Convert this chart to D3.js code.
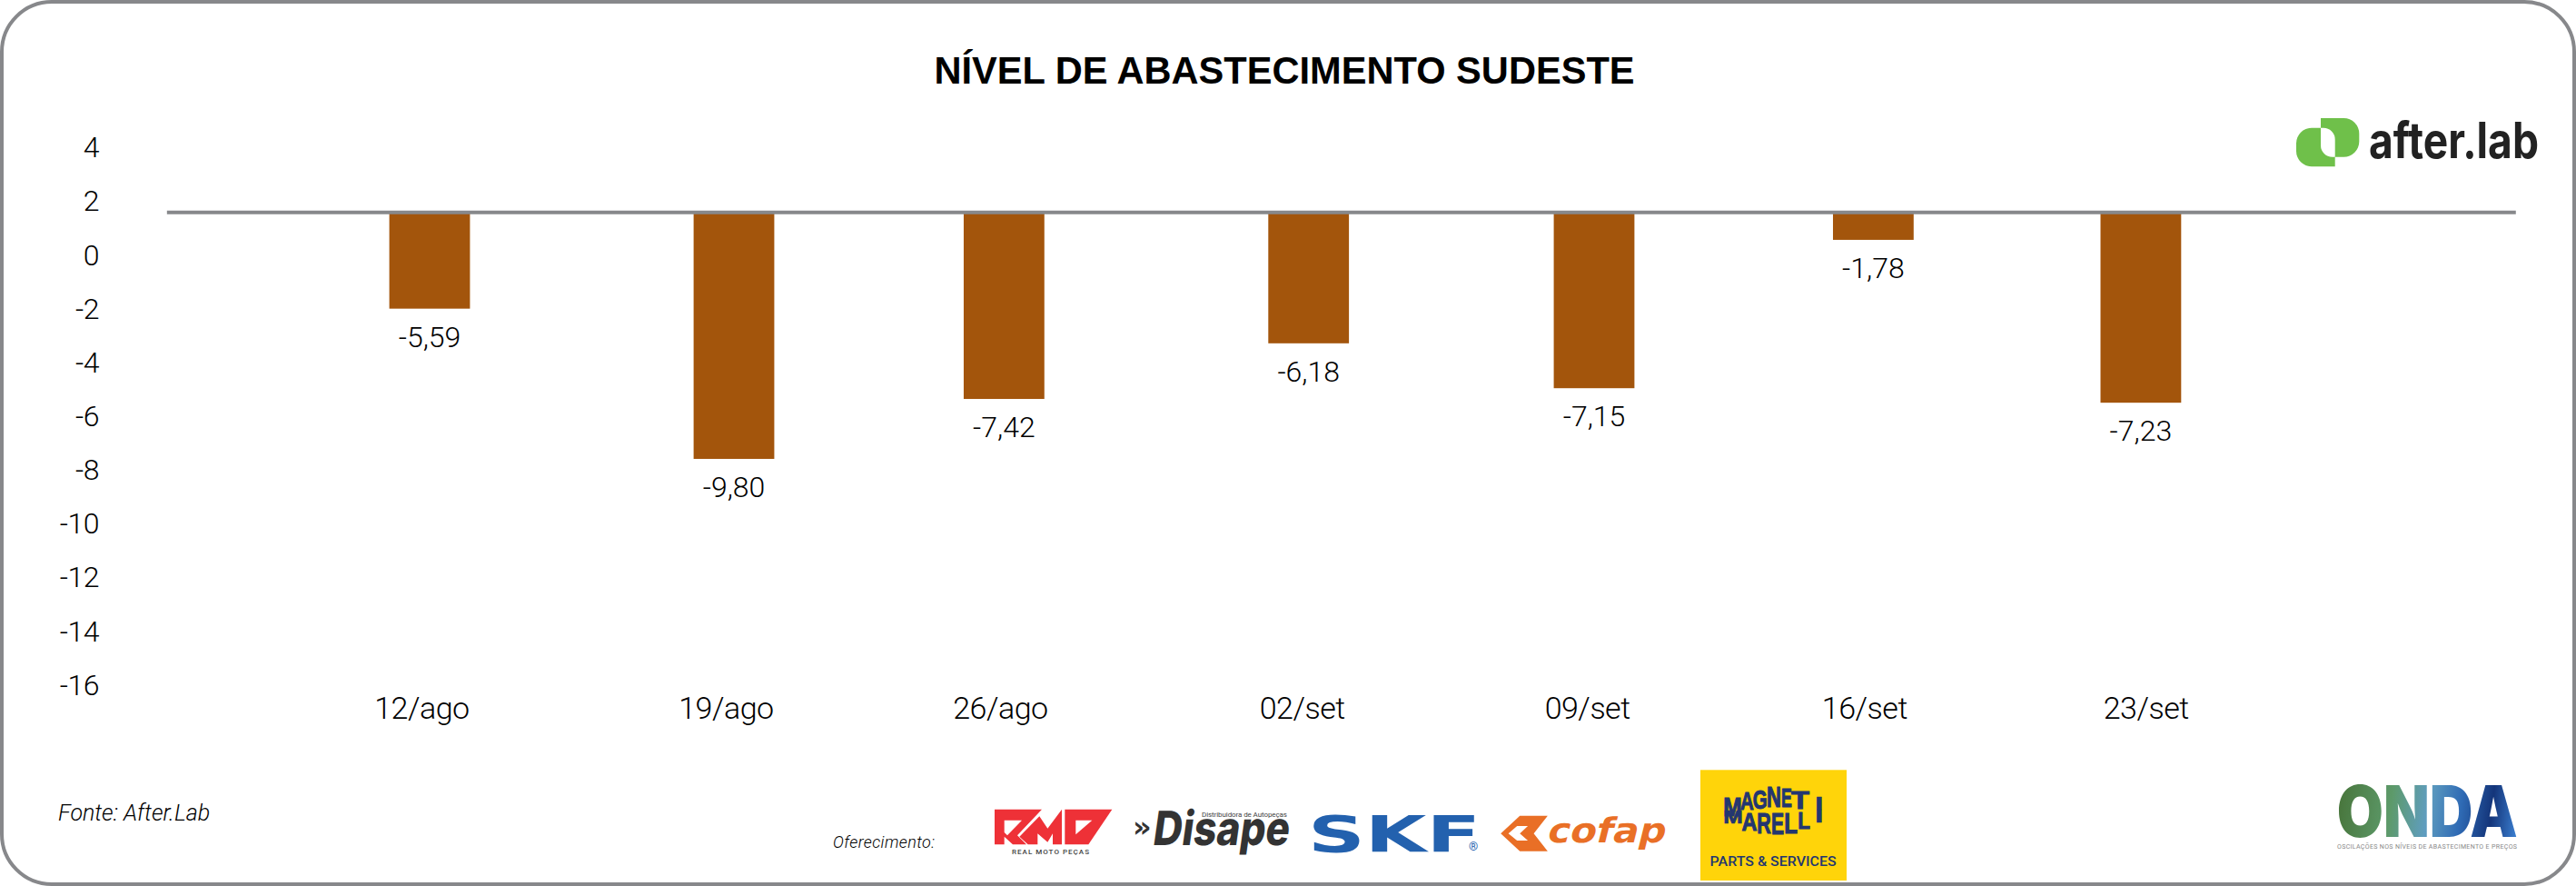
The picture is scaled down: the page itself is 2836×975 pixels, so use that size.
<!DOCTYPE html>
<html lang="pt-BR">
<head>
<meta charset="utf-8">
<title>Nível de abastecimento Sudeste</title>
<script src="https://cdnjs.cloudflare.com/ajax/libs/d3/7.8.5/d3.min.js"></script>
<style>
html,body{margin:0;padding:0;background:#fff;}
svg{display:block;}
text{font-family:Roboto,sans-serif;}
</style>
</head>
<body>
<svg id="chart" width="2836" height="975"></svg>
<script>
// ---------- data ----------
const chartTitle = "NÍVEL DE ABASTECIMENTO SUDESTE";
const categories = ["12/ago","19/ago","26/ago","02/set","09/set","16/set","23/set"];
// printed values on the bars
const valueLabels = ["-5,59","-9,80","-7,42","-6,18","-7,15","-1,78","-7,23"];
// where each bar ends when read against the left axis
const barEnds = [-1.99,-7.58,-5.35,-3.28,-4.95,0.57,-5.49];
// the reference line from which all bars hang, read against the left axis
const baselineLevel = 1.59;
// the slots along the horizontal axis are not evenly spaced in the reference
const barSlots = [0,1.067,2.014,3.082,4.083,5.062,6];
const labelSlots = [-0.029,1.038,2.0,3.058,4.058,5.03,6.017];
const slotExtent = [-0.921,7.315];
const yTicks = [4,2,0,-2,-4,-6,-8,-10,-12,-14,-16];

// ---------- scales ----------
const svg = d3.select("#chart");
const x = d3.scaleLinear().domain([0,6]).range([473,2356.9]);
const y = d3.scaleLinear().domain([4,-16]).range([162.5,754]);
const barW = 88.8;
const GRAY = "#87888b", BAR = "#a3550c", TEXTW = 350;

// frame
svg.append("rect").attr("x",2).attr("y",2).attr("width",2832).attr("height",971)
  .attr("rx",55).attr("ry",55).attr("fill","#fff").attr("stroke",GRAY).attr("stroke-width",4);

// title
svg.append("text").attr("x",1414).attr("y",92).attr("text-anchor","middle")
  .style("font-family","'Liberation Sans',Arial,sans-serif").style("font-weight",700)
  .style("font-size","41.6px").attr("fill","#000").text(chartTitle);

// y axis
const yAxis = svg.append("g").attr("transform","translate(117,0)")
  .call(d3.axisLeft(y).tickValues(yTicks).tickSize(0).tickPadding(8).tickFormat(d=>String(d)));
yAxis.select(".domain").remove();
yAxis.selectAll("text").style("font-family","Roboto,sans-serif").style("font-size","32px")
  .style("font-weight",TEXTW).style("letter-spacing","-0.5px").attr("fill","#000");

// x axis (labels only)
const xAxis = svg.append("g").attr("transform",`translate(0,${y(-16)})`)
  .call(d3.axisBottom(x).tickValues(labelSlots).tickSize(0).tickPadding(13)
    .tickFormat((d,i)=>categories[i]));
xAxis.select(".domain").remove();
xAxis.selectAll("text").style("font-family","Roboto,sans-serif").style("font-size","34px")
  .style("font-weight",TEXTW).style("letter-spacing","-0.5px").attr("fill","#000");

// bars
const rows = categories.map((c,i)=>({c,slot:barSlots[i],end:barEnds[i],label:valueLabels[i]}));
svg.append("g").selectAll("rect").data(rows).join("rect")
  .attr("x",d=>x(d.slot)-barW/2).attr("width",barW)
  .attr("y",y(baselineLevel)).attr("height",d=>y(d.end)-y(baselineLevel))
  .attr("fill",BAR);

// baseline
svg.append("line").attr("x1",x(slotExtent[0])).attr("x2",x(slotExtent[1]))
  .attr("y1",y(baselineLevel)).attr("y2",y(baselineLevel))
  .attr("stroke",GRAY).attr("stroke-width",4);

// value labels
svg.append("g").selectAll("text").data(rows).join("text")
  .attr("x",d=>x(d.slot)).attr("y",d=>y(d.end)+42)
  .attr("text-anchor","middle").style("font-size","32px").style("font-weight",TEXTW)
  .attr("fill","#000").text(d=>d.label);

// footer texts
svg.append("text").attr("x",64).attr("y",903).style("font-size","25px").style("font-style","italic")
  .style("font-weight",TEXTW).attr("fill","#000").text("Fonte: After.Lab");
svg.append("text").attr("x",917).attr("y",932.7).style("font-size","18px").style("font-style","italic")
  .style("font-weight",TEXTW).style("letter-spacing","0.4px").attr("fill","#000").text("Oferecimento:");

// ---------- logos ----------
function poly(g,pts,fill,ox,oy,sx,sy){
  g.append("polygon").attr("fill",fill)
   .attr("points",pts.map(p=>[ox+p[0]/sx,oy+p[1]/sy].join(",")).join(" "));
}
const logos = svg.append("g");

// after.lab
logos.append("path").attr("fill","#6fc04a")
  .attr("d","M2570.7 183.3H2545a17 17 0 0 1-17-17V157.7a17 17 0 0 1 17-17H2555V130H2580.3a17 17 0 0 1 17 17V155.7a17 17 0 0 1-17 17H2570.7Z");
logos.append("path").attr("fill","#fff")
  .attr("d","M2555 140.7H2558a12.7 12.7 0 0 1 12.7 12.7V172.7H2567.7a12.7 12.7 0 0 1-12.7-12.7Z");
logos.append("text").attr("x",2608).attr("y",174).attr("textLength",187).attr("lengthAdjust","spacingAndGlyphs")
  .style("font-family","Inter,sans-serif").style("font-weight",700).style("font-size","55px")
  .attr("fill","#222").text("after.lab");

// RMP
const RED="#ee3137", rmp=[1085,880,3,3];
poly(logos,[[30,32],[186,32],[105,118],[135,148],[90,148],[62,122],[62,148],[30,148]],RED,...rmp);
poly(logos,[[62,68],[120,68],[72,118],[62,108]],"#fff",...rmp);
poly(logos,[[140,148],[112,122],[178,55],[205,95],[252,32],[252,148],[222,148],[222,112],[205,140],[172,112],[172,148]],RED,...rmp);
poly(logos,[[262,32],[418,32],[340,148],[262,148]],RED,...rmp);
poly(logos,[[298,68],[352,68],[298,115]],"#fff",...rmp);
logos.append("text").attr("x",1114).attr("y",939.5).attr("textLength",85)
  .style("font-size","8px").style("font-weight",500).attr("fill","#444").text("REAL MOTO PEÇAS");

// Disape
logos.append("text").attr("x",1247).attr("y",921)
  .style("font-family","'DejaVu Sans',sans-serif").style("font-weight",700).style("font-size","32px")
  .attr("fill","#333").text("»");
logos.append("text").attr("transform","translate(1268,930) skewX(-8)").attr("textLength",150).attr("lengthAdjust","spacingAndGlyphs")
  .style("font-family","Inter,sans-serif").style("font-weight",800).style("font-size","52px")
  .attr("fill","#333").text("Disape");
logos.append("text").attr("x",1323).attr("y",899).attr("textLength",94)
  .style("font-size","8px").attr("fill","#444").text("Distribuidora de Autopeças");

// SKF
logos.append("text").attr("x",1440).attr("y",936.7).attr("textLength",190).attr("lengthAdjust","spacingAndGlyphs")
  .style("font-family","'DejaVu Sans',sans-serif").style("font-weight",700).style("font-size","55px")
  .attr("fill","#2361ae").text("SKF");
logos.append("text").attr("x",1622).attr("y",936).attr("text-anchor","middle")
  .style("font-size","13px").attr("fill","#2361ae").text("®");

// cofap
const cof=[1480,830,2.613,3], OR="#e96f26";
poly(logos,[[450,262],[505,203],[585,203],[545,262],[585,320],[505,320]],OR,...cof);
poly(logos,[[472,262],[497,237],[528,237],[505,262],[528,285],[497,285]],"#fff",...cof);
logos.append("text").attr("transform","translate(1702,927) skewX(-14)").attr("textLength",130).attr("lengthAdjust","spacingAndGlyphs")
  .style("font-family","'DejaVu Sans',sans-serif").style("font-weight",700).style("font-size","38px")
  .attr("fill",OR).text("cofap");

// Magneti Marelli
logos.append("rect").attr("x",1872).attr("y",847.3).attr("width",161).attr("height",121.7).attr("fill","#ffd40a");
const NAVY="#233670";
function barrel(word,spans){
  word.split("").forEach((ch,i)=>{
    const [l,r,top,bot]=spans[i];
    const t=logos.append("text").attr("text-anchor","middle")
      .style("font-family","'Liberation Sans',sans-serif").style("font-weight",700).style("font-size","20px")
      .attr("fill",NAVY).attr("stroke",NAVY).attr("stroke-width",0.7).text(ch);
    const natW=t.node().getComputedTextLength();
    const sx=(r-l)/3/(natW*0.9), sy=(bot-top)/3/14.4;
    t.attr("transform",`translate(${1885+(l+r)/6},${855+bot/3}) scale(${sx},${sy})`);
  });
}
barrel("MAGNETI",[[40,95,66,128],[95,135,50,108],[137,180,40,104],[182,225,32,100],[230,262,38,100],[264,318,45,104],[342,365,65,108]]);
barrel("MARELLI",[[40,98,108,152],[100,146,120,178],[150,192,120,186],[197,235,120,190],[240,280,118,186],[285,322,118,172],[342,365,108,150]]);
logos.append("text").attr("x",1882.6).attr("y",952.7).attr("textLength",139).attr("lengthAdjust","spacingAndGlyphs")
  .style("font-size","15px").style("font-weight",500).attr("fill",NAVY).text("PARTS & SERVICES");

// ONDA
const grad = svg.append("defs").append("linearGradient").attr("id","onda")
  .attr("gradientUnits","userSpaceOnUse").attr("x1",2572).attr("x2",2772).attr("y1",880).attr("y2",905);
[[0,"#47743a"],[0.3,"#5d9a6a"],[0.5,"#5f9dbf"],[0.68,"#2f6bb5"],[0.85,"#14357a"],[1,"#3b7fd0"]].forEach(s=>
  grad.append("stop").attr("offset",s[0]).attr("stop-color",s[1]));
logos.append("text").attr("x",2572.7).attr("y",921).attr("textLength",199).attr("lengthAdjust","spacingAndGlyphs")
  .style("font-family","Inter,sans-serif").style("font-weight",900).style("font-size","78px")
  .attr("fill","url(#onda)").text("ONDA");
logos.append("text").attr("x",2573).attr("y",934).attr("textLength",198)
  .style("font-size","7px").attr("fill","#888").text("OSCILAÇÕES NOS NÍVEIS DE ABASTECIMENTO E PREÇOS");
</script>
</body>
</html>
